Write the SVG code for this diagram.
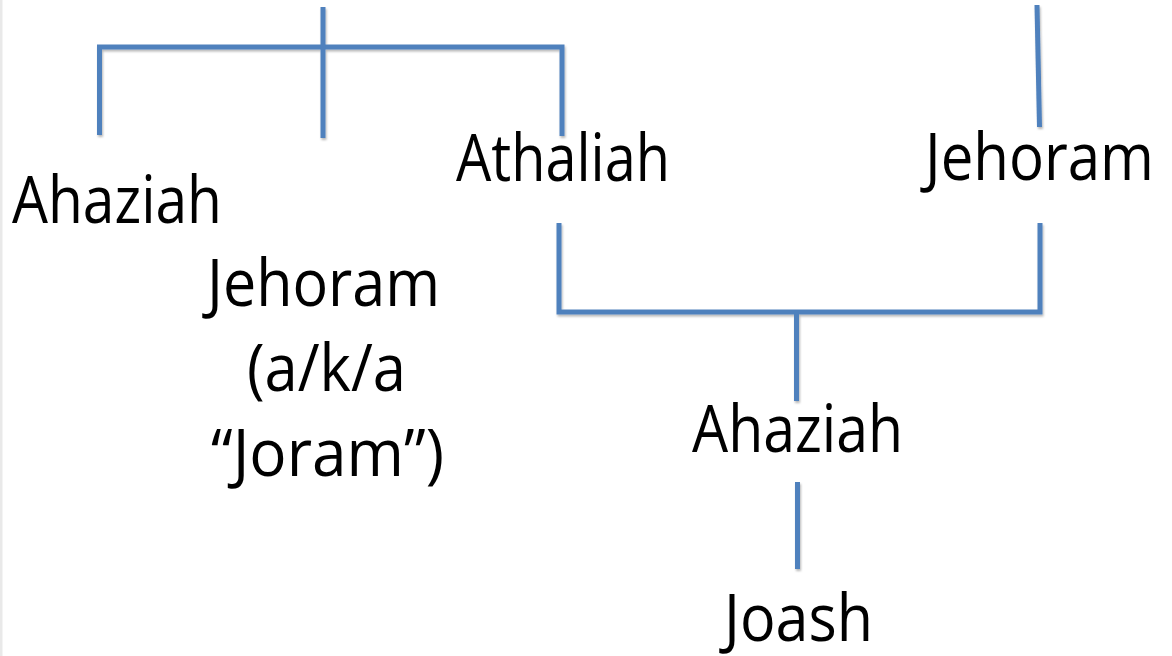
<svg xmlns="http://www.w3.org/2000/svg" width="1172" height="656" viewBox="0 0 1172 656">
  <defs>
    <filter id="sh" x="-20%" y="-20%" width="140%" height="140%">
      <feDropShadow dx="1" dy="2" stdDeviation="1.2" flood-color="#000" flood-opacity="0.28"/>
    </filter>
  </defs>
  <style>
    .ln { stroke: #4f81bd; stroke-width: 5; fill: none; stroke-linecap: butt; stroke-linejoin: miter; }
    .t { font-family: "Open Sans", "Noto Sans", sans-serif; font-size: 66px; fill: #000; }
  </style>
  <rect width="1172" height="656" fill="#fff"/>
  <rect x="0" y="0" width="2.5" height="656" fill="#e9e9e9"/>

  <g id="connectors" filter="url(#sh)">
    <path class="ln" d="M99.5 135 V47 H562 V136"/>
    <path class="ln" d="M323 7 V138"/>
    <path class="ln" d="M1037 5 L1039.5 127"/>
    <path class="ln" d="M559 223 V312 H1040 V223"/>
    <path class="ln" d="M796.5 312 V401"/>
    <path class="ln" d="M797.5 482 V569"/>
  </g>

  <g id="node-ahaziah-1">
    <text class="t" x="12" y="223" textLength="210" lengthAdjust="spacingAndGlyphs">Ahaziah</text>
  </g>
  <g id="node-jehoram-joram">
    <text class="t" x="207" y="306" textLength="233" lengthAdjust="spacingAndGlyphs">Jehoram</text>
    <text class="t" x="247" y="391" textLength="159" lengthAdjust="spacingAndGlyphs">(a/k/a</text>
    <text class="t" x="211" y="476" textLength="233" lengthAdjust="spacingAndGlyphs">“Joram”)</text>
  </g>
  <g id="node-athaliah">
    <text class="t" x="456" y="181" textLength="214" lengthAdjust="spacingAndGlyphs">Athaliah</text>
  </g>
  <g id="node-jehoram">
    <text class="t" x="925" y="180" textLength="229" lengthAdjust="spacingAndGlyphs">Jehoram</text>
  </g>
  <g id="node-ahaziah-2">
    <text class="t" x="692" y="452" textLength="211" lengthAdjust="spacingAndGlyphs">Ahaziah</text>
  </g>
  <g id="node-joash">
    <text class="t" x="724" y="641" textLength="149" lengthAdjust="spacingAndGlyphs">Joash</text>
  </g>
</svg>
